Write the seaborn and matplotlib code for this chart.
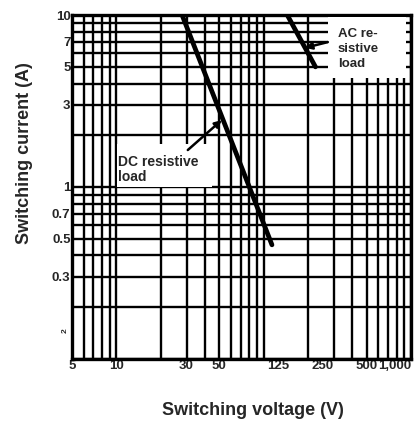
import numpy as np
import pandas as pd
import matplotlib
matplotlib.use("Agg")
import matplotlib.pyplot as plt
import matplotlib.ticker as mticker
from matplotlib.patches import Rectangle
import seaborn as sns

# ---- data ----
dc_voltage = [28, 114]
dc_current = [10, 0.46]
ac_voltage = [145, 225]
ac_current = [10, 5.0]

x_ticks = [5, 10, 30, 50, 125, 250, 500, 1000]
x_labels = ["5", "10", "30", "50", "125", "250", "500", "1,000"]
y_ticks = [0.3, 0.5, 0.7, 1, 3, 5, 7, 10]
y_labels = ["0.3", "0.5", "0.7", "1", "3", "5", "7", "10"]

curves = pd.DataFrame({
    "voltage": dc_voltage + ac_voltage,
    "current": dc_current + ac_current,
    "load": ["DC"] * len(dc_voltage) + ["AC"] * len(ac_voltage),
})

sns.set_style("white")
plt.rcParams["font.family"] = ["Liberation Sans", "DejaVu Sans"]
plt.rcParams["font.weight"] = "bold"

fig = plt.figure(figsize=(4.18, 4.21), dpi=100)
ax = fig.add_axes([0.172, 0.148, 0.811, 0.816])

sns.lineplot(data=curves, x="voltage", y="current", hue="load",
             palette={"DC": "black", "AC": "black"}, linewidth=3.4,
             legend=False, ax=ax, zorder=5)

ax.set_xscale("log")
ax.set_yscale("log")
ax.set_xlim(5, 1000)
ax.set_ylim(0.1, 10)

ax.xaxis.set_major_locator(mticker.FixedLocator(x_ticks))
ax.xaxis.set_major_formatter(mticker.FixedFormatter(x_labels))
ax.yaxis.set_major_locator(mticker.FixedLocator(y_ticks))
ax.yaxis.set_major_formatter(mticker.FixedFormatter(y_labels))

# dense log grid: minor locator on every 1..9 step, majors add the rest
ax.xaxis.set_minor_locator(mticker.LogLocator(base=10, subs=np.arange(1, 10), numticks=100))
ax.yaxis.set_minor_locator(mticker.LogLocator(base=10, subs=np.arange(1, 10), numticks=100))
ax.xaxis.set_minor_formatter(mticker.NullFormatter())
ax.yaxis.set_minor_formatter(mticker.NullFormatter())
ax.grid(True, which="both", color="black", linewidth=1.7)
ax.set_axisbelow(True)
# 125 and 250 are label positions only, not grid lines
for val, tick in zip(x_ticks, ax.xaxis.get_major_ticks()):
    if val in (125, 250):
        tick.gridline.set_visible(False)

ax.tick_params(which="both", length=0, labelsize=9.5, pad=1)
for lab in ax.get_xticklabels() + ax.get_yticklabels():
    lab.set_fontweight("bold")
ax.get_xticklabels()[-1].set_horizontalalignment("right")

# stray mark low on the y axis of the scan
ax.text(4.75, 0.145, "2", fontsize=6, rotation=90, ha="right", va="center",
        fontweight="bold", clip_on=False)

for s in ax.spines.values():
    s.set_color("black")
    s.set_linewidth(2.4)

ax.set_xlabel("Switching voltage (V)", fontsize=13, fontweight="bold")
ax.set_ylabel("Switching current (A)", fontsize=13, fontweight="bold")
ax.xaxis.set_label_coords(0.534, -0.125)
ax.yaxis.set_label_coords(-0.115, 0.60)

# white patches behind the curve labels (grid erased in the scan)
ax.add_patch(Rectangle((0.132, 0.50), 0.28, 0.125, transform=ax.transAxes,
                       fc="white", ec="none", zorder=4))
ax.add_patch(Rectangle((0.755, 0.816), 0.23, 0.178, transform=ax.transAxes,
                       fc="white", ec="none", zorder=4))

ax.text(10.3, 1.26, "DC resistive\nload", fontsize=10, fontweight="bold",
        ha="left", va="center", zorder=6, linespacing=1.1)
ax.annotate("", xy=(52, 2.45), xytext=(30.6, 1.64), zorder=6,
            arrowprops=dict(arrowstyle="-|>", color="black", lw=1.8,
                            shrinkA=0, shrinkB=0))

ax.text(320, 6.34, "AC re-\nsistive\nload", fontsize=9.5, fontweight="bold",
        ha="left", va="center", zorder=6, linespacing=1.3)
ax.annotate("", xy=(191, 6.45), xytext=(273, 6.97), zorder=6,
            arrowprops=dict(arrowstyle="-|>", color="black", lw=1.8,
                            shrinkA=0, shrinkB=0))

fig.savefig("out.png", dpi=100)
